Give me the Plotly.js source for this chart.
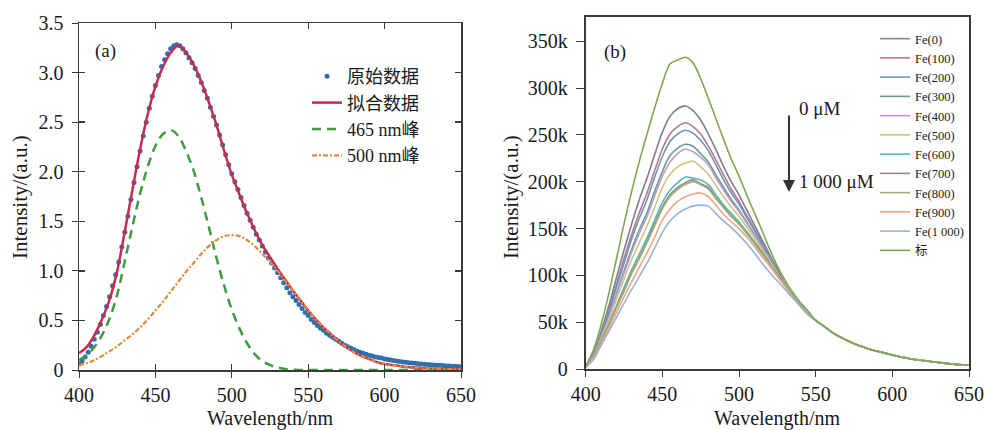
<!DOCTYPE html>
<html>
<head>
<meta charset="utf-8">
<script src="https://cdn.plot.ly/plotly-3.0.1.min.js"></script>
<style>
html,body{margin:0;padding:0;background:#fff;}
#chart{width:984px;height:430px;}
</style>
</head>
<body>
<div id="chart"></div>
<script>
// ---------- Panel (a) data ----------
const wl5 = [400,405,410,415,420,425,430,435,440,445,450,455,460,465,470,475,480,485,490,495,500,505,510,515,520,525,530,535,540,545,550,555,560,565,570,575,580,585,590,595,600,605,610,615,620,625,630,635,640,645,650];
const wl2 = [400,402,404,406,408,410,412,414,416,418,420,422,424,426,428,430,432,434,436,438,440,442,444,446,448,450,452,454,456,458,460,462,464,466,468,470,472,474,476,478,480,482,484,486,488,490,492,494,496,498,500,502,504,506,508,510,512,514,516,518,520,522,524,526,528,530,532,534,536,538,540,542,544,546,548,550,552,554,556,558,560,562,564,566,568,570,572,574,576,578,580,582,584,586,588,590,592,594,596,598,600,602,604,606,608,610,612,614,616,618,620,622,624,626,628,630,632,634,636,638,640,642,644,646,648,650];
const rawData = [0.06,0.09,0.13,0.18,0.24,0.31,0.38,0.46,0.55,0.64,0.74,0.85,0.96,1.09,1.24,1.39,1.55,1.72,1.89,2.05,2.21,2.36,2.50,2.64,2.76,2.87,2.97,3.06,3.13,3.19,3.24,3.27,3.28,3.27,3.24,3.20,3.15,3.10,3.04,2.97,2.90,2.82,2.74,2.65,2.56,2.47,2.37,2.27,2.17,2.07,1.98,1.90,1.82,1.74,1.66,1.58,1.51,1.44,1.37,1.31,1.25,1.19,1.13,1.08,1.03,0.98,0.93,0.88,0.83,0.78,0.74,0.70,0.66,0.62,0.58,0.55,0.51,0.48,0.45,0.42,0.40,0.37,0.35,0.33,0.31,0.29,0.27,0.25,0.235,0.22,0.205,0.19,0.18,0.17,0.16,0.15,0.14,0.13,0.125,0.12,0.11,0.105,0.10,0.095,0.09,0.085,0.08,0.077,0.073,0.07,0.067,0.064,0.061,0.058,0.056,0.053,0.051,0.049,0.047,0.045,0.043,0.041,0.039,0.037,0.035,0.033];
const fitData = [0.17,0.23,0.35,0.51,0.71,1.00,1.40,1.82,2.23,2.58,2.86,3.06,3.20,3.27,3.20,3.08,2.91,2.70,2.47,2.21,1.97,1.77,1.58,1.41,1.26,1.14,1.02,0.91,0.80,0.70,0.60,0.51,0.43,0.36,0.29,0.23,0.18,0.14,0.11,0.08,0.06,0.05,0.04,0.03,0.025,0.02,0.015,0.012,0.01,0.008,0.006];
const peak465 = [0.10,0.15,0.23,0.35,0.52,0.76,1.10,1.45,1.78,2.05,2.26,2.38,2.42,2.36,2.21,2.01,1.74,1.44,1.13,0.85,0.61,0.42,0.27,0.16,0.09,0.05,0.025,0.01,0.005,0,0,0,0,0,0,0,0,0,0,0,0,0,0,0,0,0,0,0,0,0,0];
const peak500 = [0.05,0.07,0.10,0.14,0.19,0.24,0.30,0.36,0.43,0.51,0.60,0.69,0.79,0.89,0.99,1.08,1.17,1.25,1.31,1.35,1.36,1.35,1.31,1.25,1.17,1.09,1.00,0.90,0.80,0.70,0.60,0.51,0.43,0.36,0.29,0.23,0.18,0.14,0.11,0.08,0.06,0.05,0.04,0.03,0.025,0.02,0.015,0.012,0.01,0.008,0.006];
const namesA = ['原始数据','拟合数据','465 nm峰','500 nm峰'];
const yTicksA = [0,0.5,1,1.5,2,2.5,3,3.5];
const yTickTextA = ['0','0.5','1.0','1.5','2.0','2.5','3.0','3.5'];
const xTicks = [400,450,500,550,600,650];

// ---------- Panel (b) data (intensity in thousands) ----------
const tailB = [52,46,40,35,31,27,24,21,19,17,15,13,11.5,10,9,8,7,6,5,4.5,4];
const fe0    = [3,17,40,67,97,127,155,181,204,229,253,270,278,281,276,266,251,234,216,200,186,170,154,138,122,107,91,79,68,59];
const fe100  = [3,16,37,62,90,118,144,167,188,212,235,251,259,263,259,251,238,223,207,192,179,164,150,135,120,106,91,79,68,59];
const fe200  = [3,15,36,60,87,113,139,161,181,205,227,243,251,255,252,244,233,218,202,188,176,162,148,134,119,105,90,78,68,59];
const fe300  = [3,14,34,56,80,105,128,149,167,190,211,228,236,240,238,230,221,207,194,181,170,157,144,131,117,104,90,78,68,59];
const fe400  = [3,14,33,55,79,102,125,145,163,185,206,221,230,235,232,226,218,204,191,179,168,156,143,130,117,103,90,78,68,59];
const fe500  = [2,13,32,52,74,96,117,135,153,173,194,208,216,220,222,216,208,196,184,173,163,152,140,128,115,102,89,78,68,59];
const fe600  = [2,12,29,48,67,87,106,123,140,159,178,191,199,205,204,202,197,186,175,166,157,147,136,125,113,101,89,78,68,59];
const fe700  = [2,12,29,47,66,84,103,119,136,155,173,186,194,199,202,198,194,183,173,163,155,145,135,124,112,101,89,78,68,59];
const fe800  = [2,12,28,46,65,83,102,118,135,153,171,184,192,197,200,197,192,182,172,163,155,145,134,123,112,100,89,78,68,59];
const fe900  = [2,11,27,43,60,77,93,109,124,141,159,171,179,184,187,188,184,175,165,157,150,141,131,120,110,99,88,77,67,58];
const fe1000 = [2,10,25,40,55,70,85,99,113,129,146,158,166,171,174,175,174,166,158,151,143,134,124,113,103,94,85,76,67,58];
const biao   = [3,20,47,80,117,155,190,222,251,279,305,326,330,333,327,310,289,267,245,224,206,186,167,148,128,110,95,82,71,62];
const namesB = ['Fe(0)','Fe(100)','Fe(200)','Fe(300)','Fe(400)','Fe(500)','Fe(600)','Fe(700)','Fe(800)','Fe(900)','Fe(1 000)','标'];
const seriesB = [fe0,fe100,fe200,fe300,fe400,fe500,fe600,fe700,fe800,fe900,fe1000,biao];
const colorsB = ['#7e7e8e','#b8788a','#6f93bd','#6c9c8e','#b99ad2','#d2c27e','#4fbab8','#94848e','#a4aa78','#e8a886','#9ab2d2','#7aaa52'];
const yTicksB = [0,50,100,150,200,250,300,350];
const yTickTextB = ['0','50k','100k','150k','200k','250k','300k','350k'];

// ---------- Build figure ----------
const FONT = 'Liberation Serif, Times New Roman, DejaVu Serif, Noto Sans CJK SC, serif';
const traces = [
  {x: wl2, y: rawData, name: namesA[0], mode: 'markers', type: 'scatter',
   marker: {color: '#2f6fb1', size: 5}, xaxis: 'x', yaxis: 'y', legend: 'legend'},
  {x: wl5, y: fitData, name: namesA[1], mode: 'lines', type: 'scatter', line: {color: '#c72c50', width: 2.5, shape: 'spline'},
   xaxis: 'x', yaxis: 'y', legend: 'legend'},
  {x: wl5, y: peak465, name: namesA[2], mode: 'lines', type: 'scatter', line: {color: '#3f9a42', width: 2.5, dash: '9px,6px', shape: 'spline'},
   xaxis: 'x', yaxis: 'y', legend: 'legend'},
  {x: wl5, y: peak500, name: namesA[3], mode: 'lines', type: 'scatter', line: {color: '#dc8a3c', width: 2.2, dash: '5px,2px,2px,2px', shape: 'spline'},
   xaxis: 'x', yaxis: 'y', legend: 'legend'},
  {x: [], y: [], xaxis: 'x3', yaxis: 'y3', showlegend: false, type: 'scatter', mode: 'lines', hoverinfo: 'skip'}
];
seriesB.forEach((s, i) => {
  traces.push({x: wl5, y: s.concat(tailB), name: namesB[i], mode: 'lines', type: 'scatter',
    line: {color: colorsB[i], width: 1.6, shape: 'spline', smoothing: 0.8}, xaxis: 'x2', yaxis: 'y2', legend: 'legend2'});
});

const axisCommon = {showgrid: false, zeroline: false, showline: true, linecolor: '#3a3a3a', linewidth: 1.5,
  tickcolor: '#3a3a3a', tickfont: {family: FONT, size: 20, color: '#1a1a1a'}, ticklabelstandoff: 4};

const domXA = [79/984, 461/984], domYA = [1-370/430, 1-23/430];
const layout = {
  width: 984, height: 430, margin: {l: 0, r: 0, t: 0, b: 0},
  paper_bgcolor: '#ffffff', plot_bgcolor: '#ffffff', font: {family: FONT, color: '#1a1a1a'},
  xaxis: Object.assign({}, axisCommon, {domain: domXA, range: [400, 650], tickvals: xTicks,
    ticks: 'outside', ticklen: 6, mirror: true, anchor: 'y', ticklabelstandoff: 0}),
  yaxis: Object.assign({}, axisCommon, {domain: domYA, range: [0, 3.5], tickvals: yTicksA, ticktext: yTickTextA,
    ticks: 'outside', ticklen: 6, mirror: true, anchor: 'x'}),
  xaxis3: {overlaying: 'x', range: [400, 650], tickvals: xTicks, ticks: 'inside', ticklen: 6, tickcolor: '#3a3a3a', tickwidth: 1.3,
    mirror: 'ticks', showline: false, showgrid: false, zeroline: false, showticklabels: false, anchor: 'y3'},
  yaxis3: {overlaying: 'y', range: [0, 3.5], tickvals: yTicksA, ticks: 'inside', ticklen: 6, tickcolor: '#3a3a3a', tickwidth: 1.3,
    mirror: 'ticks', showline: false, showgrid: false, zeroline: false, showticklabels: false, anchor: 'x3'},
  xaxis2: Object.assign({}, axisCommon, {domain: [585.7/984, 969/984], range: [400, 650], tickvals: xTicks,
    ticks: 'outside', ticklen: 6, mirror: true, anchor: 'y2', linewidth: 2, ticklabelstandoff: 0}),
  yaxis2: Object.assign({}, axisCommon, {domain: [1-369/430, 1-17/430], range: [0, 376], tickvals: yTicksB, ticktext: yTickTextB,
    ticks: 'outside', ticklen: 8, mirror: true, anchor: 'x2', linewidth: 2}),
  legend: {x: 307/984, y: 1-58/430, xanchor: 'left', yanchor: 'top', bgcolor: 'rgba(0,0,0,0)',
    font: {family: FONT, size: 18, color: '#1a1a1a'}, tracegroupgap: 0},
  legend2: {x: 875/984, y: 1-24/430, xanchor: 'left', yanchor: 'top', bgcolor: 'rgba(0,0,0,0)',
    font: {family: FONT, size: 12.5, color: '#1a1a1a'}, tracegroupgap: 0},
  showlegend: true,
  annotations: [
    {text: '(a)', xref: 'paper', yref: 'paper', x: 105/984, y: 1-51/430, xanchor: 'center', yanchor: 'middle', showarrow: false, font: {family: FONT, size: 19}},
    {text: '(b)', xref: 'paper', yref: 'paper', x: 615/984, y: 1-52/430, xanchor: 'center', yanchor: 'middle', showarrow: false, font: {family: FONT, size: 19}},
    {text: 'Intensity/(a.u.)', xref: 'paper', yref: 'paper', x: 20/984, y: 1-197/430, xanchor: 'center', yanchor: 'middle', textangle: -90, showarrow: false, font: {family: FONT, size: 21}},
    {text: 'Intensity/(a.u.)', xref: 'paper', yref: 'paper', x: 511/984, y: 1-197/430, xanchor: 'center', yanchor: 'middle', textangle: -90, showarrow: false, font: {family: FONT, size: 21}},
    {text: 'Wavelength/nm', xref: 'paper', yref: 'paper', x: 270/984, y: 1-418/430, xanchor: 'center', yanchor: 'middle', showarrow: false, font: {family: FONT, size: 20}},
    {text: 'Wavelength/nm', xref: 'paper', yref: 'paper', x: 777/984, y: 1-418/430, xanchor: 'center', yanchor: 'middle', showarrow: false, font: {family: FONT, size: 20}},
    {text: '0 μM', xref: 'paper', yref: 'paper', x: 797/984, y: 1-108/430, xanchor: 'left', yanchor: 'middle', showarrow: false, font: {family: FONT, size: 19}},
    {text: '1 000 μM', xref: 'paper', yref: 'paper', x: 797/984, y: 1-182/430, xanchor: 'left', yanchor: 'middle', showarrow: false, font: {family: FONT, size: 19}},
    {text: '', xref: 'paper', yref: 'paper', x: 789/984, y: 1-192/430, ax: 0, ay: -78, axref: 'pixel', ayref: 'pixel',
     showarrow: true, arrowhead: 2, arrowsize: 1.2, arrowwidth: 2, arrowcolor: '#333'}
  ]
};

Plotly.newPlot('chart', traces, layout, {displayModeBar: false, staticPlot: true});
</script>
</body>
</html>
